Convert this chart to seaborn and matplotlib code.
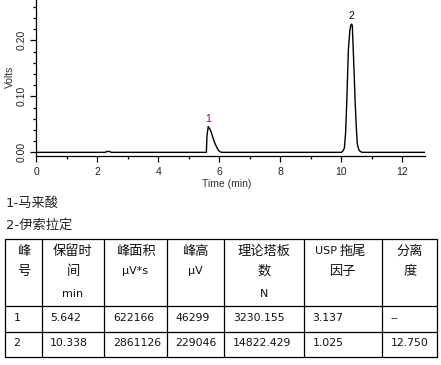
import matplotlib
matplotlib.use("Agg")
import matplotlib.pyplot as plt
from matplotlib.lines import Line2D
from matplotlib.ticker import MultipleLocator
import seaborn as sns
import pandas as pd

# ---- chromatogram data ----
time_min = [0.00, 2.28, 2.31, 2.42, 2.45, 5.58, 5.60, 5.64, 5.70, 5.75, 5.80, 5.86,
            5.92, 5.97, 6.03, 6.08, 10.01, 10.06, 10.10, 10.14, 10.18, 10.23, 10.28,
            10.31, 10.34, 10.36, 10.39, 10.42, 10.45, 10.49, 10.52, 10.57, 10.61,
            10.68, 12.74]
volts = [0, 0, 0.0015, 0.0015, 0, 0, 0.030, 0.046, 0.041, 0.034, 0.025, 0.016,
         0.009, 0.004, 0.001, 0, 0, 0.003, 0.008, 0.035, 0.093, 0.183, 0.218,
         0.227, 0.229, 0.226, 0.183, 0.140, 0.093, 0.045, 0.016, 0.005, 0.002,
         0, 0]
peak_ids = ["1", "2"]
peak_times = [5.642, 10.338]
peak_heights = [0.0463, 0.2290]
peak_colors = ["#800080", "#000000"]

legend_lines = ["1-马来酸", "2-伊索拉定"]

header_lines = [["峰", "号"], ["保留时", "间", "min"], ["峰面积", "μV*s"],
                ["峰高", "μV"], ["理论塔板", "数", "N"], ["USP 拖尾", "因子"],
                ["分离", "度"]]
row1 = ["1", "5.642", "622166", "46299", "3230.155", "3.137", "--"]
row2 = ["2", "10.338", "2861126", "229046", "14822.429", "1.025", "12.750"]

sns.set_theme(style="ticks")
W, H = 441, 365
fig = plt.figure(figsize=(W / 100, H / 100), dpi=100)
fig.patch.set_facecolor("white")

def fx(x):
    return x / W

def fy(y):
    return 1 - y / H

ax = fig.add_axes([fx(36), fy(155.7), fx(425) - fx(36), fy(0) - fy(155.7)])
df = pd.DataFrame({"t": time_min, "v": volts})
sns.lineplot(data=df, x="t", y="v", ax=ax, color="black", lw=1.0,
             estimator=None, sort=False)
ax.set_xlim(0, 12.74)
ax.set_ylim(-0.006, 0.272)
ax.set_facecolor("white")
for s in ["top", "right"]:
    ax.spines[s].set_visible(False)
for s in ["left", "bottom"]:
    ax.spines[s].set_linewidth(0.9)
    ax.spines[s].set_color("black")
ax.xaxis.set_major_locator(MultipleLocator(2))
ax.xaxis.set_minor_locator(MultipleLocator(1))
ax.yaxis.set_major_locator(MultipleLocator(0.1))
ax.yaxis.set_minor_locator(MultipleLocator(0.02))
ax.tick_params(axis="both", which="major", direction="out", length=4, width=0.9,
               color="black", labelsize=7.5, labelcolor="#222222")
ax.tick_params(axis="x", which="major", pad=4)
ax.tick_params(axis="y", which="major", pad=2.5)
ax.tick_params(axis="both", which="minor", direction="out", length=2.5, width=0.9,
               color="black")
xt = [0, 2, 4, 6, 8, 10, 12]
ax.set_xticks(xt)
ax.set_xticklabels([f"{v:g}" for v in xt], family="Liberation Sans")
yt = [0.0, 0.1, 0.2]
ax.set_yticks(yt)
ax.set_yticklabels([f"{v:.2f}" for v in yt], rotation=90, va="center",
                   family="Liberation Sans")
ax.set_xlim(0, 12.74)
ax.set_xlabel("Time (min)", fontsize=7.5, family="Liberation Sans",
              color="#333333")
ax.set_ylabel("Volts", fontsize=7.5, family="Liberation Sans",
              color="#333333")
ax.xaxis.set_label_coords(0.491, -0.147)
ax.yaxis.set_label_coords(-0.053, 0.505)
for pid, pt, ph, pc in zip(peak_ids, peak_times, peak_heights, peak_colors):
    ax.annotate(pid, (pt, ph), xytext=(0, 2), textcoords="offset points",
                ha="center", va="bottom", fontsize=7.5, color=pc,
                family="Liberation Sans")

# ---- legend text ----
cjk = ["DejaVu Sans", "Noto Sans CJK SC"]
fig.text(fx(6), fy(203), legend_lines[0], fontsize=9.5, family=cjk,
         ha="left", va="center")
fig.text(fx(6), fy(225), legend_lines[1], fontsize=9.5, family=cjk,
         ha="left", va="center")

# ---- table ----
xs = [5, 41.7, 104.3, 166.7, 224.3, 304, 382.3, 437.3]
ys = [239.3, 306, 331.7, 357.3]
for x in xs:
    fig.add_artist(Line2D([fx(x), fx(x)], [fy(ys[0]), fy(ys[-1])],
                          color="black", lw=0.9, transform=fig.transFigure))
for y in ys:
    fig.add_artist(Line2D([fx(xs[0]), fx(xs[-1])], [fy(y), fy(y)],
                          color="black", lw=0.9, transform=fig.transFigure))

line_y = [251, 271.5, 294]
for ci, lines in enumerate(header_lines):
    cx = (xs[ci] + xs[ci + 1]) / 2
    for li, txt in enumerate(lines):
        if txt.startswith("USP"):
            fig.text(fx(336.7), fy(line_y[li]), "USP", fontsize=8, family=cjk,
                     ha="right", va="center", color="#111111")
            fig.text(fx(340), fy(line_y[li]), "拖尾", fontsize=9.5, family=cjk,
                     ha="left", va="center", color="#111111")
            continue
        is_latin = all(ord(ch) < 0x3000 for ch in txt)
        fig.text(fx(cx), fy(line_y[li]), txt, fontsize=8 if is_latin else 9.5,
                 family=cjk, ha="center", va="center", color="#111111")

row_y = [318, 343.5]
for ri, row in enumerate([row1, row2]):
    for ci, txt in enumerate(row):
        fig.text(fx(xs[ci] + 8.5), fy(row_y[ri]), txt, fontsize=7.8,
                 family=cjk, ha="left", va="center", color="#111111")

fig.savefig("out.png", dpi=100, facecolor="white")
